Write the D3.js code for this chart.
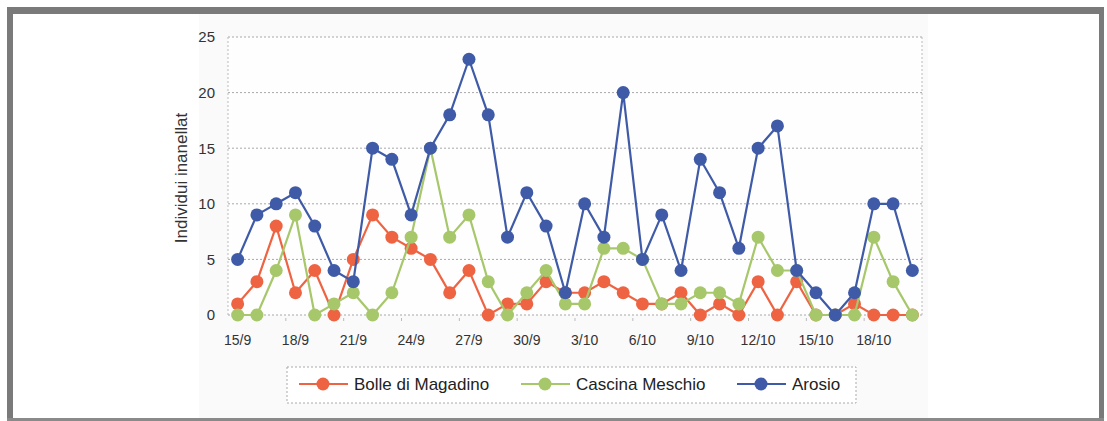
<!DOCTYPE html>
<html>
<head>
<meta charset="utf-8">
<script src="https://cdn.jsdelivr.net/npm/d3@7"></script>
<style>
  html, body { margin: 0; padding: 0; background: #ffffff; }
  svg { display: block; }
  text { font-family: Arial, "Liberation Sans", sans-serif; }
</style>
</head>
<body>
<svg id="chart" width="1107" height="421"></svg>
<script>
// ---- data ----
const categories = ["15/9","16/9","17/9","18/9","19/9","20/9","21/9","22/9","23/9","24/9","25/9","26/9",
  "27/9","28/9","29/9","30/9","1/10","2/10","3/10","4/10","5/10","6/10","7/10","8/10",
  "9/10","10/10","11/10","12/10","13/10","14/10","15/10","16/10","17/10","18/10","19/10","20/10"];
const bolle   = [1,3,8,2,4,0,5,9,7,6,5,2,4,0,1,1,3,2,2,3,2,1,1,2,0,1,0,3,0,3,0,0,1,0,0,0];
const cascina = [0,0,4,9,0,1,2,0,2,7,15,7,9,3,0,2,4,1,1,6,6,5,1,1,2,2,1,7,4,4,0,0,0,7,3,0];
const arosio  = [5,9,10,11,8,4,3,15,14,9,15,18,23,18,7,11,8,2,10,7,20,5,9,4,14,11,6,15,17,4,2,0,2,10,10,4];
const seriesNames = ["Bolle di Magadino","Cascina Meschio","Arosio"];
const seriesColors = ["#ee6443","#a7c76b","#3f5ba7"];
const tickLabels = ["15/9","18/9","21/9","24/9","27/9","30/9","3/10","6/10","9/10","12/10","15/10","18/10"];
const yTicks = [0,5,10,15,20,25];
const yTitle = "Individui inanellat";

const svg = d3.select("#chart");

// frame
svg.append("rect").attr("x",0).attr("y",0).attr("width",1107).attr("height",421).attr("fill","#fff");
svg.append("rect").attr("x",199).attr("y",14).attr("width",729).attr("height",404).attr("fill","#fafafa");
const frameCol = "#7a7a7a";
svg.append("rect").attr("x",7).attr("y",7).attr("width",1097).attr("height",7).attr("fill",frameCol);
svg.append("rect").attr("x",7).attr("y",7).attr("width",6).attr("height",414).attr("fill",frameCol);
svg.append("rect").attr("x",1099).attr("y",7).attr("width",5).attr("height",414).attr("fill",frameCol);
svg.append("rect").attr("x",7).attr("y",418).attr("width",1097).attr("height",3).attr("fill","#8a8a8a");

const pLeft = 228, pRight = 922, pTop = 37, pBottom = 315;
const x = d3.scaleBand().domain(categories).range([pLeft, pRight]).padding(0);
const y = d3.scaleLinear().domain([0,25]).range([pBottom, pTop]);
const cx = d => x(d) + x.bandwidth()/2;

// plot background
svg.append("rect").attr("x",pLeft).attr("y",pTop).attr("width",pRight-pLeft).attr("height",pBottom-pTop).attr("fill","#fefefe");

// gridlines
svg.append("g").selectAll("line").data(yTicks).join("line")
  .attr("x1",pLeft).attr("x2",pRight).attr("y1",d=>y(d)).attr("y2",d=>y(d))
  .attr("stroke","#a8a8a8").attr("stroke-width",1).attr("stroke-dasharray","2,2");
// plot border left/right dotted
[pLeft,pRight].forEach(xx=>{
  svg.append("line").attr("x1",xx).attr("x2",xx).attr("y1",pTop).attr("y2",pBottom)
    .attr("stroke","#bbbbbb").attr("stroke-width",1).attr("stroke-dasharray","2,2");
});

// y axis labels
const yAxis = d3.axisLeft(y).tickValues(yTicks).tickSize(0).tickPadding(13);
const gy = svg.append("g").attr("transform",`translate(${pLeft},0)`).call(yAxis);
gy.select(".domain").remove();
gy.selectAll("text").attr("font-size",15).attr("fill","#333").attr("font-family","Arial, sans-serif");

// x axis labels
const xAxis = d3.axisBottom(x).tickValues(tickLabels).tickSize(0).tickPadding(20);
const gx = svg.append("g").attr("transform",`translate(0,${pBottom})`).call(xAxis);
gx.select(".domain").remove();
gx.selectAll("text").attr("font-size",14).attr("fill","#333").attr("font-family","Arial, sans-serif");

// small boundary ticks
svg.append("g").selectAll("line").data(tickLabels.slice(1)).join("line")
  .attr("x1",d=>x(d)).attr("x2",d=>x(d))
  .attr("y1",pBottom+3).attr("y2",pBottom+6).attr("stroke","#bbb");

// y title
svg.append("text").attr("transform","translate(187,178) rotate(-90)")
  .attr("text-anchor","middle").attr("font-size",17).attr("fill","#333").text(yTitle);

// series
const allSeries = [bolle, cascina, arosio];
const line = d3.line().x((d,i)=>cx(categories[i])).y(d=>y(d));
allSeries.forEach((vals, si) => {
  const g = svg.append("g");
  g.append("path").datum(vals).attr("d",line).attr("fill","none")
    .attr("stroke",seriesColors[si]).attr("stroke-width",2.2);
  g.selectAll("circle").data(vals).join("circle")
    .attr("cx",(d,i)=>cx(categories[i])).attr("cy",d=>y(d)).attr("r",6.5)
    .attr("fill",seriesColors[si]);
});

// legend
const lg = svg.append("g");
lg.append("rect").attr("x",287).attr("y",367).attr("width",569).attr("height",36)
  .attr("fill","#fff").attr("stroke","#aaa").attr("stroke-width",1).attr("stroke-dasharray","2,2");
const legendX = [299, 521, 737];
seriesNames.forEach((name, i) => {
  const lx = legendX[i], ly = 384;
  lg.append("line").attr("x1",lx).attr("x2",lx+49).attr("y1",ly).attr("y2",ly)
    .attr("stroke",seriesColors[i]).attr("stroke-width",2.2);
  lg.append("circle").attr("cx",lx+24).attr("cy",ly).attr("r",6.5).attr("fill",seriesColors[i]);
  lg.append("text").attr("x",lx+55).attr("y",ly+6).attr("font-size",17).attr("fill","#222").text(name);
});
</script>
</body>
</html>
